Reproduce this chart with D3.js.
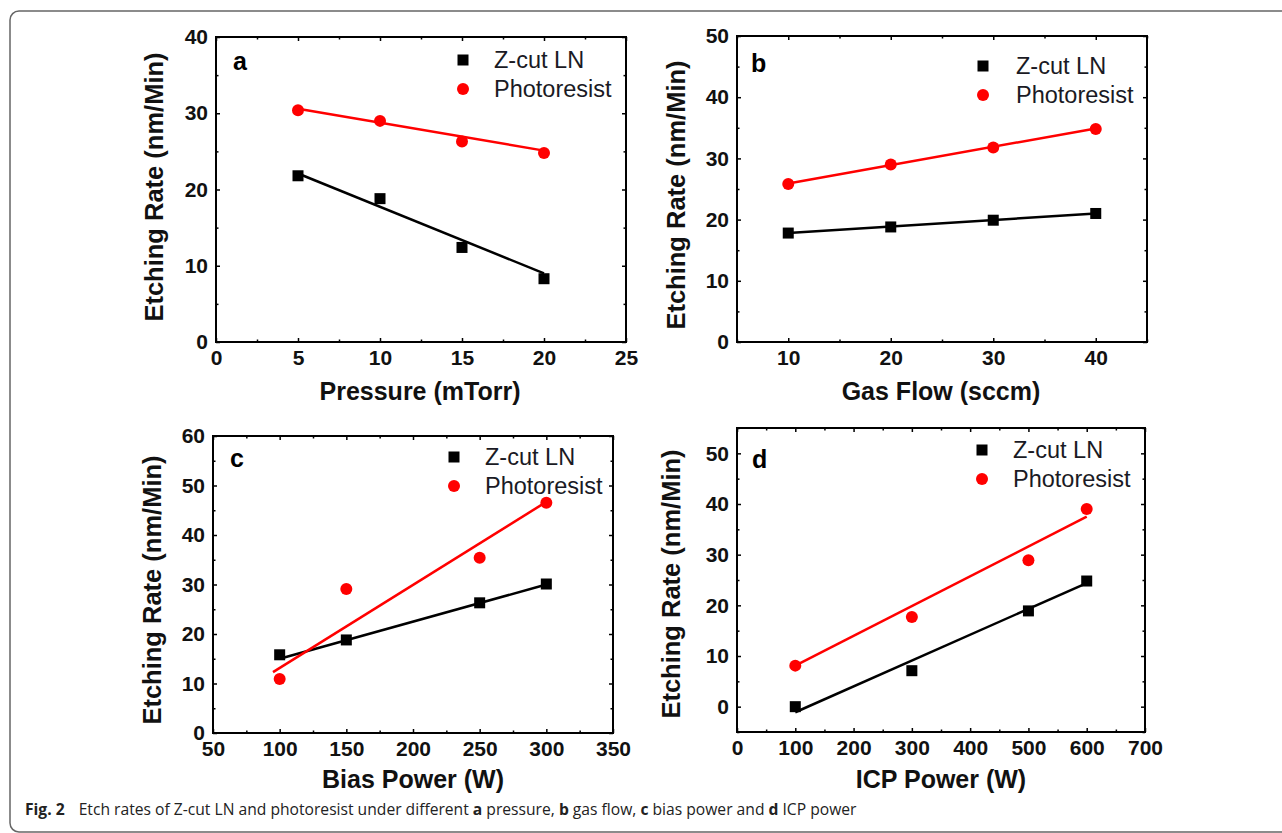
<!DOCTYPE html>
<html>
<head>
<meta charset="utf-8">
<script src="https://cdn.jsdelivr.net/npm/d3@7"></script>
<style>
  body { margin: 0; background: #fff; }
  svg { display: block; font-family: "Liberation Sans", Arial, sans-serif; }
</style>
</head>
<body>
<svg id="chart" width="1282" height="833"></svg>
<script>
// legend names
var seriesNames = ["Z-cut LN", "Photoresist"];

// (a) pressure
var pressure = [5, 10, 15, 20];
var pressureLN = [21.8, 18.8, 12.4, 8.3];
var pressurePR = [30.4, 29.0, 26.3, 24.8];
var pressureFitX = [5, 20];
var pressureFitLN = [22.1, 9.0];
var pressureFitPR = [30.6, 25.1];

// (b) gas flow
var gasFlow = [10, 20, 30, 40];
var gasFlowLN = [17.8, 18.8, 19.9, 21.0];
var gasFlowPR = [25.8, 29.0, 31.8, 34.8];
var gasFlowFitX = [10, 40];
var gasFlowFitLN = [17.8, 21.0];
var gasFlowFitPR = [25.9, 34.9];

// (c) bias power
var biasPower = [100, 150, 250, 300];
var biasLN = [15.8, 18.8, 26.3, 30.1];
var biasPR = [10.9, 29.1, 35.4, 46.5];
var biasFitXLN = [100, 300];
var biasFitLN = [15.0, 30.0];
var biasFitXPR = [95, 300];
var biasFitPR = [12.3, 46.7];

// (d) ICP power
var icpPower = [100, 300, 500, 600];
var icpLN = [0, 7.1, 18.9, 24.8];
var icpPR = [8.1, 17.7, 28.9, 39.0];
var icpFitX = [100, 600];
var icpFitLN = [-1.1, 24.4];
var icpFitPR = [8.1, 37.5];

// tick labels
var pressureTicks = [0, 5, 10, 15, 20, 25];
var pressureRateTicks = [0, 10, 20, 30, 40];
var gasFlowTicks = [10, 20, 30, 40];
var gasFlowRateTicks = [0, 10, 20, 30, 40, 50];
var biasTicks = [50, 100, 150, 200, 250, 300, 350];
var biasRateTicks = [0, 10, 20, 30, 40, 50, 60];
var icpTicks = [0, 100, 200, 300, 400, 500, 600, 700];
var icpRateTicks = [0, 10, 20, 30, 40, 50];

var yTitle = "Etching Rate (nm/Min)";

var svg = d3.select("#chart");

// outer frame of the figure box
svg.append("rect")
  .attr("x", 10).attr("y", 11)
  .attr("width", 1300).attr("height", 821)
  .attr("rx", 9)
  .attr("fill", "none")
  .attr("stroke", "#666")
  .attr("stroke-width", 1.5);

var panels = [
  { letter: "a", box: [216, 37, 626, 342], xDomain: [0, 25], yDomain: [0, 40],
    xTicks: pressureTicks, yTicks: pressureRateTicks, xStep: 5, yStep: 10,
    xs: pressure, ln: pressureLN, pr: pressurePR,
    fitXLN: pressureFitX, fitLN: pressureFitLN, fitXPR: pressureFitX, fitPR: pressureFitPR,
    xTitle: "Pressure (mTorr)", xTitlePos: [420, 400], yTitlePos: [163, 187],
    letterPos: [233, 70], legend: [463, 60, 494] },
  { letter: "b", box: [737, 36, 1147, 342], xDomain: [5, 45], yDomain: [0, 50],
    xTicks: gasFlowTicks, yTicks: gasFlowRateTicks, xStep: 10, yStep: 10,
    xs: gasFlow, ln: gasFlowLN, pr: gasFlowPR,
    fitXLN: gasFlowFitX, fitLN: gasFlowFitLN, fitXPR: gasFlowFitX, fitPR: gasFlowFitPR,
    xTitle: "Gas Flow (sccm)", xTitlePos: [941, 400], yTitlePos: [685, 195],
    letterPos: [751, 72], legend: [983, 66, 1016] },
  { letter: "c", box: [213, 436, 613, 733], xDomain: [50, 350], yDomain: [0, 60],
    xTicks: biasTicks, yTicks: biasRateTicks, xStep: 50, yStep: 10,
    xs: biasPower, ln: biasLN, pr: biasPR,
    fitXLN: biasFitXLN, fitLN: biasFitLN, fitXPR: biasFitXPR, fitPR: biasFitPR,
    xTitle: "Bias Power (W)", xTitlePos: [413, 788], yTitlePos: [161, 590],
    letterPos: [230, 467], legend: [454, 457, 485] },
  { letter: "d", box: [737, 428, 1145, 732], xDomain: [0, 700], yDomain: [-5, 55],
    xTicks: icpTicks, yTicks: icpRateTicks, xStep: 100, yStep: 10,
    xs: icpPower, ln: icpLN, pr: icpPR,
    fitXLN: icpFitX, fitLN: icpFitLN, fitXPR: icpFitX, fitPR: icpFitPR,
    xTitle: "ICP Power (W)", xTitlePos: [941, 788], yTitlePos: [680, 584],
    letterPos: [752, 468], legend: [982, 450, 1013] }
];

function minorTicks(domain, step, major) {
  return d3.range(domain[0], domain[1] + 1e-9, step / 2)
    .filter(function(v) { return major.indexOf(v) < 0; });
}

function styleAxis(g) {
  g.attr("font-size", null).attr("font-family", null);
  g.select(".domain").remove();
  g.selectAll("line").attr("stroke", "#000").attr("stroke-width", 1.5);
  g.selectAll("text")
    .attr("font-size", 21)
    .attr("font-weight", "bold")
    .attr("fill", "#111");
}

function drawPanel(p) {
  var left = p.box[0], top = p.box[1], right = p.box[2], bottom = p.box[3];
  var g = svg.append("g").attr("class", "panel-" + p.letter);

  var xScale = d3.scaleLinear().domain(p.xDomain).range([left, right]);
  var yScale = d3.scaleLinear().domain(p.yDomain).range([bottom, top]);

  var xMinor = minorTicks(p.xDomain, p.xStep, p.xTicks);
  var yMinor = minorTicks([p.yDomain[0], p.yDomain[1]], p.yStep, p.yTicks);
  var xMajor = p.xTicks;
  var yMajor = p.yTicks;

  // bottom / left with labels
  g.append("g")
    .attr("transform", "translate(0," + bottom + ")")
    .call(d3.axisBottom(xScale).tickValues(xMajor).tickSize(-4).tickPadding(8).tickFormat(d3.format("d")))
    .call(styleAxis);
  g.append("g")
    .attr("transform", "translate(" + left + ",0)")
    .call(d3.axisLeft(yScale).tickValues(yMajor).tickSize(-4).tickPadding(8).tickFormat(d3.format("d")))
    .call(styleAxis);

  // top / right mirror ticks, no labels
  g.append("g")
    .attr("transform", "translate(0," + top + ")")
    .call(d3.axisTop(xScale).tickValues(xMajor).tickSize(-4).tickFormat(""))
    .call(styleAxis);
  g.append("g")
    .attr("transform", "translate(" + right + ",0)")
    .call(d3.axisRight(yScale).tickValues(yMajor).tickSize(-4).tickFormat(""))
    .call(styleAxis);

  // minor ticks on all four sides
  [[d3.axisBottom(xScale), "translate(0," + bottom + ")", xMinor],
   [d3.axisTop(xScale), "translate(0," + top + ")", xMinor],
   [d3.axisLeft(yScale), "translate(" + left + ",0)", yMinor],
   [d3.axisRight(yScale), "translate(" + right + ",0)", yMinor]].forEach(function(a) {
    g.append("g")
      .attr("transform", a[1])
      .call(a[0].tickValues(a[2]).tickSize(-2.5).tickFormat(""))
      .call(styleAxis);
  });

  g.append("rect")
    .attr("x", left).attr("y", top)
    .attr("width", right - left).attr("height", bottom - top)
    .attr("fill", "none")
    .attr("stroke", "#000")
    .attr("stroke-width", 2);

  var line = d3.line()
    .x(function(d) { return xScale(d[0]); })
    .y(function(d) { return yScale(d[1]); });

  g.append("path")
    .datum(d3.zip(p.fitXLN, p.fitLN))
    .attr("d", line)
    .attr("fill", "none")
    .attr("stroke", "#000")
    .attr("stroke-width", 2.5);
  g.append("path")
    .datum(d3.zip(p.fitXPR, p.fitPR))
    .attr("d", line)
    .attr("fill", "none")
    .attr("stroke", "#ff0000")
    .attr("stroke-width", 2.5);

  g.selectAll("rect.ln")
    .data(d3.zip(p.xs, p.ln))
    .enter().append("rect")
    .attr("class", "ln")
    .attr("x", function(d) { return xScale(d[0]) - 5.5; })
    .attr("y", function(d) { return yScale(d[1]) - 5.5; })
    .attr("width", 11).attr("height", 11)
    .attr("fill", "#000");

  g.selectAll("circle.pr")
    .data(d3.zip(p.xs, p.pr))
    .enter().append("circle")
    .attr("class", "pr")
    .attr("cx", function(d) { return xScale(d[0]); })
    .attr("cy", function(d) { return yScale(d[1]); })
    .attr("r", 6)
    .attr("fill", "#ff0000");

  // legend
  var lx = p.legend[0], ly = p.legend[1], tx = p.legend[2];
  g.append("rect")
    .attr("x", lx - 5.5).attr("y", ly - 5.5)
    .attr("width", 11).attr("height", 11)
    .attr("fill", "#000");
  g.append("circle")
    .attr("cx", lx).attr("cy", ly + 29)
    .attr("r", 6)
    .attr("fill", "#ff0000");
  g.selectAll("text.legend")
    .data(seriesNames)
    .enter().append("text")
    .attr("class", "legend")
    .attr("x", tx)
    .attr("y", function(d, i) { return ly + 8 + i * 29; })
    .attr("font-size", 23.5)
    .attr("fill", "#1a1a24")
    .text(function(d) { return d; });

  // panel letter
  g.append("text")
    .attr("x", p.letterPos[0]).attr("y", p.letterPos[1])
    .attr("font-size", 25)
    .attr("font-weight", "bold")
    .text(p.letter);

  // axis titles
  g.append("text")
    .attr("x", p.xTitlePos[0]).attr("y", p.xTitlePos[1])
    .attr("text-anchor", "middle")
    .attr("font-size", 25)
    .attr("font-weight", "bold")
    .attr("fill", "#111")
    .text(p.xTitle);
  g.append("text")
    .attr("transform", "translate(" + p.yTitlePos[0] + "," + p.yTitlePos[1] + ") rotate(-90)")
    .attr("text-anchor", "middle")
    .attr("font-size", 25.5)
    .attr("font-weight", "bold")
    .attr("fill", "#111")
    .text(yTitle);
}

panels.forEach(drawPanel);

// caption
var captionParts = [
  { t: "Fig. 2", b: true, dx: 0 },
  { t: "Etch rates of Z-cut LN and photoresist under different ", b: false, dx: 14 },
  { t: "a", b: true }, { t: " pressure, ", b: false },
  { t: "b", b: true }, { t: " gas flow, ", b: false },
  { t: "c", b: true }, { t: " bias power and ", b: false },
  { t: "d", b: true }, { t: " ICP power", b: false }
];

var caption = svg.append("text")
  .attr("x", 25).attr("y", 815)
  .attr("font-family", "'Open Sans', 'Noto Sans', sans-serif")
  .attr("font-size", 17)
  .attr("fill", "#222")
  .style("white-space", "pre");

caption.selectAll("tspan")
  .data(captionParts)
  .enter().append("tspan")
  .attr("dx", function(d) { return d.dx || null; })
  .attr("font-weight", function(d) { return d.b ? "bold" : null; })
  .text(function(d) { return d.t; });

// size the caption so it ends where it does in the figure (~x 857)
var capW = caption.node().getComputedTextLength();
caption.attr("font-size", 17 * 818 / capW);
</script>
</body>
</html>
